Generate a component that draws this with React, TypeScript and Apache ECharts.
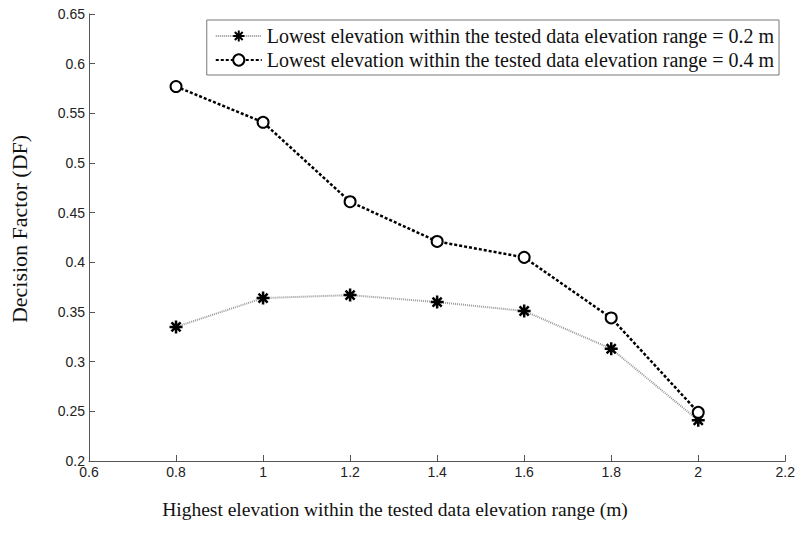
import React, { useEffect, useRef } from "react";
import * as echarts from "echarts";

const xValues = [0.8, 1.0, 1.2, 1.4, 1.6, 1.8, 2.0];
const seriesLow02 = [0.335, 0.364, 0.367, 0.36, 0.351, 0.313, 0.241];
const seriesLow04 = [0.577, 0.541, 0.461, 0.421, 0.405, 0.344, 0.249];
const seriesNames = [
  "Lowest elevation within the tested data elevation range = 0.2 m",
  "Lowest elevation within the tested data elevation range = 0.4 m",
];
const xTitle = "Highest elevation within the tested data elevation range (m)";
const yTitle = "Decision Factor (DF)";

const starPath =
  "path://M10 0 L10 20 M0 10 L20 10 M3 3 L17 17 M3 17 L17 3";

export default function App() {
  const ref = useRef<HTMLDivElement>(null);
  useEffect(() => {
    if (!ref.current) return;
    const chart = echarts.init(ref.current, undefined, { renderer: "svg" });
    const serif = "'Liberation Serif', 'Times New Roman', serif";
    const sans = "'Liberation Sans', Arial, sans-serif";
    const axisLine = { show: true, lineStyle: { color: "#555", width: 1 } };
    chart.setOption({
      animation: false,
      backgroundColor: "#fff",
      grid: { left: 89, right: 11, top: 14, bottom: 76 },
      graphic: [
        {
          type: "text",
          x: 19,
          y: 229,
          rotation: Math.PI / 2,
          style: {
            text: yTitle,
            align: "center",
            verticalAlign: "middle",
            font: `22px ${serif}`,
            fill: "#111",
          },
        },
        {
          type: "text",
          x: 395,
          y: 509,
          style: {
            text: xTitle,
            align: "center",
            verticalAlign: "middle",
            font: `19.5px ${serif}`,
            fill: "#111",
          },
        },
      ],
      legend: {
        orient: "vertical",
        right: 19,
        top: 20,
        padding: [6, 5, 5, 8],
        itemGap: 4,
        itemWidth: 46,
        itemHeight: 14,
        borderColor: "#777",
        borderWidth: 1,
        backgroundColor: "#fff",
        textStyle: { fontFamily: serif, fontSize: 20, color: "#111" },
        data: seriesNames,
      },
      xAxis: {
        type: "value",
        min: 0.6,
        max: 2.2,
        interval: 0.2,
        axisLine,
        axisTick: { show: true, inside: true, length: 6, lineStyle: { color: "#555" } },
        axisLabel: { fontFamily: sans, fontSize: 14, color: "#222", margin: 4 },
        splitLine: { show: false },
      },
      yAxis: {
        type: "value",
        min: 0.2,
        max: 0.65,
        interval: 0.05,
        axisLine,
        axisTick: { show: true, inside: true, length: 6, lineStyle: { color: "#555" } },
        axisLabel: { fontFamily: sans, fontSize: 14, color: "#222", margin: 4 },
        splitLine: { show: false },
      },
      series: [
        {
          name: seriesNames[0],
          type: "line",
          data: xValues.map((x, i) => [x, seriesLow02[i]]),
          symbol: starPath,
          symbolSize: 13,
          itemStyle: { color: "#000", borderColor: "#000", borderWidth: 2.5 },
          lineStyle: { color: "#999", width: 2, type: [1, 1] },
          z: 2,
        },
        {
          name: seriesNames[1],
          type: "line",
          data: xValues.map((x, i) => [x, seriesLow04[i]]),
          symbol: "emptyCircle",
          symbolSize: 11,
          itemStyle: { color: "#000", borderColor: "#000", borderWidth: 2.5 },
          lineStyle: { color: "#000", width: 2.5, type: [3, 2] },
          z: 3,
        },
      ],
    });
    return () => chart.dispose();
  }, []);
  return (
    <div
      ref={ref}
      style={{ position: "absolute", left: 0, top: 0, width: 798, height: 537 }}
    />
  );
}
